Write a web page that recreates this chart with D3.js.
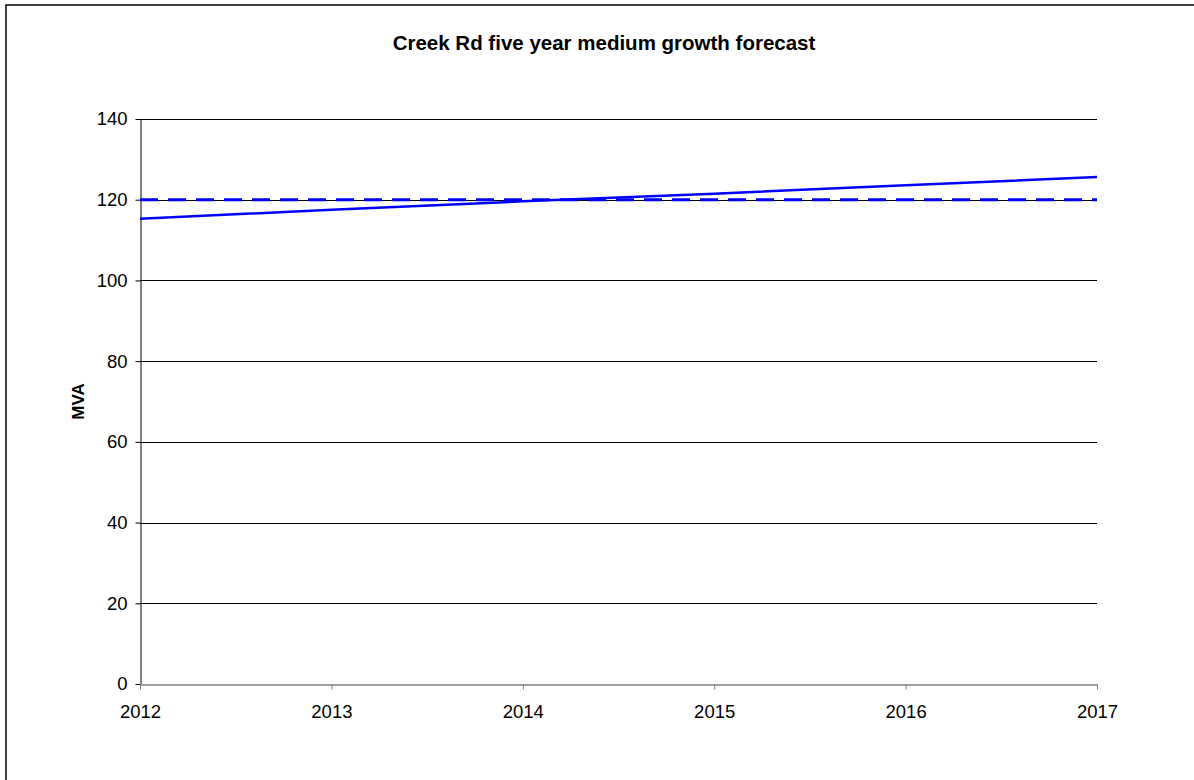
<!DOCTYPE html>
<html>
<head>
<meta charset="utf-8">
<script src="https://cdn.jsdelivr.net/npm/d3@7"></script>
<style>
  body { margin: 0; background: #fff; }
  svg { display: block; font-family: "Liberation Sans", Arial, sans-serif; }
</style>
</head>
<body>
<svg id="chart" width="1194" height="780"></svg>
<script>
const title = "Creek Rd five year medium growth forecast";
const yLabel = "MVA";
const years = [2012, 2013, 2014, 2015, 2016, 2017];
const forecast = [115.3, 117.5, 119.6, 121.5, 123.6, 125.6];
const rating = [120, 120, 120, 120, 120, 120];
const yTicks = [0, 20, 40, 60, 80, 100, 120, 140];

const svg = d3.select("#chart");
const m = { left: 140, right: 1097, top: 119, bottom: 684 };

// outer frame (right/bottom edges lie outside the visible area)
svg.append("rect").attr("x", 6).attr("y", 5).attr("width", 1200).attr("height", 800)
  .attr("fill", "#fff").attr("stroke", "#000").attr("stroke-width", 1.5);

const x = d3.scaleLinear().domain([2012, 2017]).range([m.left, m.right]);
const y = d3.scaleLinear().domain([0, 140]).range([m.bottom, m.top]);

// gridlines
svg.append("g").selectAll("line").data(yTicks.filter(d => d > 0)).join("line")
  .attr("x1", m.left).attr("x2", m.right)
  .attr("y1", d => Math.round(y(d)) + 0.5).attr("y2", d => Math.round(y(d)) + 0.5)
  .attr("stroke", "#000").attr("stroke-width", 1);

// y axis
const yAxis = svg.append("g").attr("transform", `translate(${m.left + 0.5},0)`)
  .call(d3.axisLeft(y).tickValues(yTicks).tickSize(5).tickPadding(8).tickSizeOuter(0));
yAxis.select(".domain").attr("stroke", "#000");
yAxis.selectAll(".tick line").attr("stroke", "#000");
yAxis.selectAll("text").attr("font-size", 18.5).attr("fill", "#000")
  .attr("font-family", "Liberation Sans, Arial, sans-serif");

// x axis
const xAxis = svg.append("g").attr("transform", `translate(0,${Math.round(y(0)) + 0.5})`)
  .call(d3.axisBottom(x).tickValues(years).tickFormat(d3.format("d")).tickSize(5).tickPadding(15).tickSizeOuter(0));
xAxis.select(".domain").attr("stroke", "#808080").attr("stroke-width", 1.5);
xAxis.selectAll(".tick line").attr("stroke", "#808080");
xAxis.selectAll("text").attr("font-size", 18.5).attr("fill", "#000")
  .attr("font-family", "Liberation Sans, Arial, sans-serif");

const line = d3.line().x((d, i) => x(years[i])).y(d => y(d));

// rating (dashed)
svg.append("path").datum(rating).attr("d", line)
  .attr("fill", "none").attr("stroke", "#0000FF").attr("stroke-width", 3)
  .attr("stroke-dasharray", "18,10");

// forecast (solid)
svg.append("path").datum(forecast).attr("d", line)
  .attr("fill", "none").attr("stroke", "#0000FF").attr("stroke-width", 2.5);

// title
svg.append("text").attr("x", 604).attr("y", 50).attr("text-anchor", "middle")
  .attr("font-size", 20.5).attr("font-weight", "bold").attr("fill", "#000").text(title);

// y label
svg.append("text").attr("transform", `translate(84,${(m.top + m.bottom) / 2}) rotate(-90)`)
  .attr("text-anchor", "middle").attr("font-size", 17).attr("font-weight", "bold")
  .attr("fill", "#000").text(yLabel);
</script>
</body>
</html>
